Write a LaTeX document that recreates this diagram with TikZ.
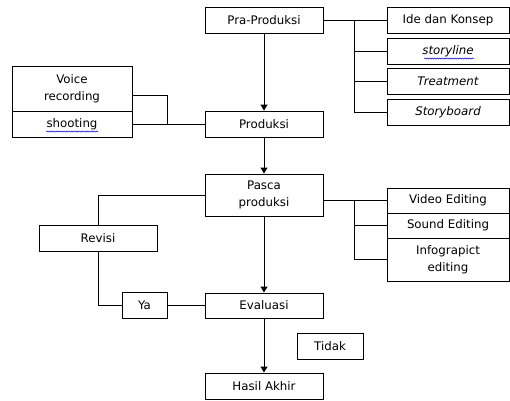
\documentclass[tikz,border=0pt]{standalone}
\usepackage{fontspec}
\setmainfont{DejaVu Sans}
\usetikzlibrary{arrows.meta,decorations.pathmorphing}
\tikzset{
  box/.style={draw, line width=0.9pt, inner sep=0pt, align=center,
    font=\fontsize{11.8}{17}\selectfont},
  ln/.style={line width=0.9pt},
  arr/.style={line width=0.9pt, -{Triangle[width=7pt,length=6pt]}},
  wavy/.style={draw=blue!80!black, line width=0.5pt, decorate,
    decoration={snake, amplitude=0.6pt, segment length=2.5pt}}
}
\begin{document}
\begin{tikzpicture}[x=1pt,y=-1pt]
\useasboundingbox (0,0) rectangle (510,400);
% main column
\node[box, minimum width=118pt, minimum height=26pt] (pra) at (264,20.5) {Pra-Produksi};
\node[box, minimum width=118pt, minimum height=26pt] (prod) at (264,124) {Produksi};
\node[box, minimum width=118pt, minimum height=42pt] (pasca) at (264,195) {Pasca\\produksi};
\node[box, minimum width=118pt, minimum height=25pt] (eval) at (264,305.5) {Evaluasi};
\node[box, minimum width=118pt, minimum height=26pt] (hasil) at (264,386) {Hasil Akhir};
% pra-produksi branches
\node[box, minimum width=122pt, minimum height=26pt] (ide) at (448,20.5) {Ide dan Konsep};
\node[box, minimum width=122pt, minimum height=26pt] (story) at (448,51) {\itshape storyline};
\node[box, minimum width=122pt, minimum height=26pt] (treat) at (448,81) {\itshape Treatment};
\node[box, minimum width=122pt, minimum height=26pt] (board) at (448,112) {\itshape Storyboard};
% pasca branches
\node[box, minimum width=122pt, minimum height=25pt] (video) at (448,200.5) {Video Editing};
\node[box, minimum width=122pt, minimum height=25pt] (sound) at (448,225.5) {Sound Editing};
\node[box, minimum width=122pt, minimum height=43pt] (info) at (448,259.5) {Infograpict\\editing};
% produksi branches
\node[box, minimum width=120pt, minimum height=45pt] (voice) at (72,88.5) {Voice\\recording};
\node[box, minimum width=120pt, minimum height=26pt] (shoot) at (72,124) {shooting};
% evaluation
\node[box, minimum width=118pt, minimum height=26pt] (revisi) at (98,238) {Revisi};
\node[box, minimum width=45pt, minimum height=26pt] (ya) at (144.5,305.5) {Ya};
\node[box, minimum width=66pt, minimum height=26pt] (tidak) at (330,346) {Tidak};
% spell-check underlines
\draw[wavy] (46,131.5) -- (98,131.5);
\draw[wavy] (424,58.5) -- (474,58.5);
% coordinates
\coordinate (bx) at (354,0);
\coordinate (vx) at (167,124);
% connectors
\draw[arr] (pra.south) -- (prod.north);
\draw[arr] (prod.south) -- (pasca.north);
\draw[arr] (pasca.south) -- (eval.north);
\draw[arr] (eval.south) -- (hasil.north);
\draw[ln] (pra.east) -- (ide.west);
\draw[ln] (bx |- ide.west) |- (board.west);
\draw[ln] (bx |- story.west) -- (story.west);
\draw[ln] (bx |- treat.west) -- (treat.west);
\draw[ln] (pasca.east |- video.west) -- (video.west);
\draw[ln] (bx |- video.west) |- (info.west);
\draw[ln] (bx |- sound.west) -- (sound.west);
\draw[ln] ([yshift=-6.5pt]voice.east) -| (vx);
\draw[ln] (shoot.east) -- (prod.west);
\draw[ln] (pasca.west) -| (revisi.north);
\draw[ln] (revisi.south) |- (ya.west);
\draw[ln] (ya.east) -- (eval.west);
\end{tikzpicture}
\end{document}
